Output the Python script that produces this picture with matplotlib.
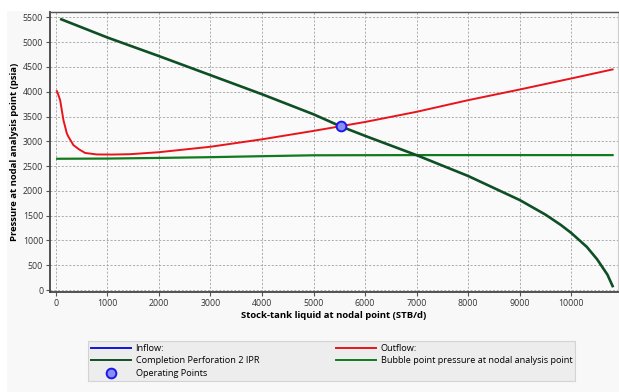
import matplotlib.pyplot as plt
from matplotlib.lines import Line2D
from matplotlib.patches import Rectangle

plt.rcParams['font.family'] = ['Open Sans', 'DejaVu Sans']

# outflow (VLP) curve
out_q = [23, 54, 87, 151, 217, 248, 345, 450, 572, 800, 1100, 1440, 2000, 3000, 4000, 5000, 6000, 7000, 8000, 9000, 10000, 10800]
out_p = [4012, 3931, 3830, 3427, 3159, 3091, 2923, 2840, 2765, 2735, 2733, 2740, 2780, 2890, 3040, 3210, 3390, 3595, 3830, 4045, 4268, 4450]

# completion perforation 2 IPR
ipr_q = [110, 1000, 2000, 3000, 4000, 5000, 5530, 6000, 7000, 8000, 9000, 9500, 9800, 10000, 10300, 10500, 10700, 10800]
ipr_p = [5460, 5095, 4720, 4335, 3950, 3545, 3300, 3110, 2720, 2300, 1815, 1520, 1310, 1150, 870, 620, 310, 80]

# bubble point pressure at nodal analysis point
bp_q = [30, 1000, 2000, 3000, 4000, 5000, 7000, 10800]
bp_p = [2648, 2652, 2665, 2680, 2700, 2718, 2722, 2722]

op_q = [5530]
op_p = [3300]

red = '#e8141c'
dkgreen = '#0f4f25'
green = '#127a1e'

fig = plt.figure(figsize=(6.19, 3.92), dpi=100, facecolor='white')
# grey panel behind the chart
fig.patches.append(Rectangle((7 / 619, 0), 1, 1 - 11 / 392, transform=fig.transFigure,
                             facecolor='#f8f8f8', edgecolor='none', zorder=-1))
ax = fig.add_axes([0.081, 0.255, 0.917, 0.714], facecolor='#fafafa')

ax.plot(out_q, out_p, color=red, lw=1.4)
ax.plot(bp_q, bp_p, color=green, lw=1.6)
ax.plot(ipr_q, ipr_p, color=dkgreen, lw=1.9)
ax.plot(op_q, op_p, 'o', ms=7, mfc='#8c8cf5', mec='#1a1ae6', mew=1.4, zorder=5)

ax.set_xlim(-107, 10900)
ax.set_ylim(-40, 5605)
ax.set_xticks(range(0, 10001, 1000))
ax.set_yticks(range(0, 5501, 500))
ax.tick_params(labelsize=6.3, length=3, color='#555555', labelcolor='#333333', pad=2)
ax.grid(True, ls=(0, (2.5, 2)), color='#a0a0a0', lw=0.6)

for side in ['left', 'bottom']:
    ax.spines[side].set_color('#444444')
    ax.spines[side].set_linewidth(1.3)
ax.spines['top'].set_color('#555555')
ax.spines['top'].set_linewidth(1.0)
ax.spines['right'].set_color('#cccccc')

ax.set_xlabel('Stock-tank liquid at nodal point (STB/d)', fontsize=6.8, fontweight='bold', labelpad=2)
ax.set_ylabel('Pressure at nodal analysis point (psia)', fontsize=6.8, fontweight='bold', labelpad=3)

handles = [
    Line2D([], [], color='#1010e0', lw=1.4),
    Line2D([], [], color=dkgreen, lw=1.4),
    Line2D([], [], ls='none', marker='o', ms=7, mfc='#8c8cf5', mec='#1a1ae6', mew=1.4),
    Line2D([], [], color=red, lw=1.4),
    Line2D([], [], color=green, lw=1.4),
]
labels = ['Inflow:', 'Completion Perforation 2 IPR', 'Operating Points',
          'Outflow:', 'Bubble point pressure at nodal analysis point']
leg = fig.legend(handles, labels, ncol=2, loc='upper left', bbox_to_anchor=(0.142, 0.13),
                 borderaxespad=0, fontsize=6.6, handlelength=4.4, handletextpad=0.5,
                 columnspacing=8.4, labelspacing=0.4, borderpad=0.3,
                 fancybox=False, frameon=True)
leg.get_frame().set_facecolor('#ebebeb')
leg.get_frame().set_edgecolor('#cccccc')
leg.get_frame().set_linewidth(0.8)

fig.savefig('out.png', dpi=100, facecolor=fig.get_facecolor())
